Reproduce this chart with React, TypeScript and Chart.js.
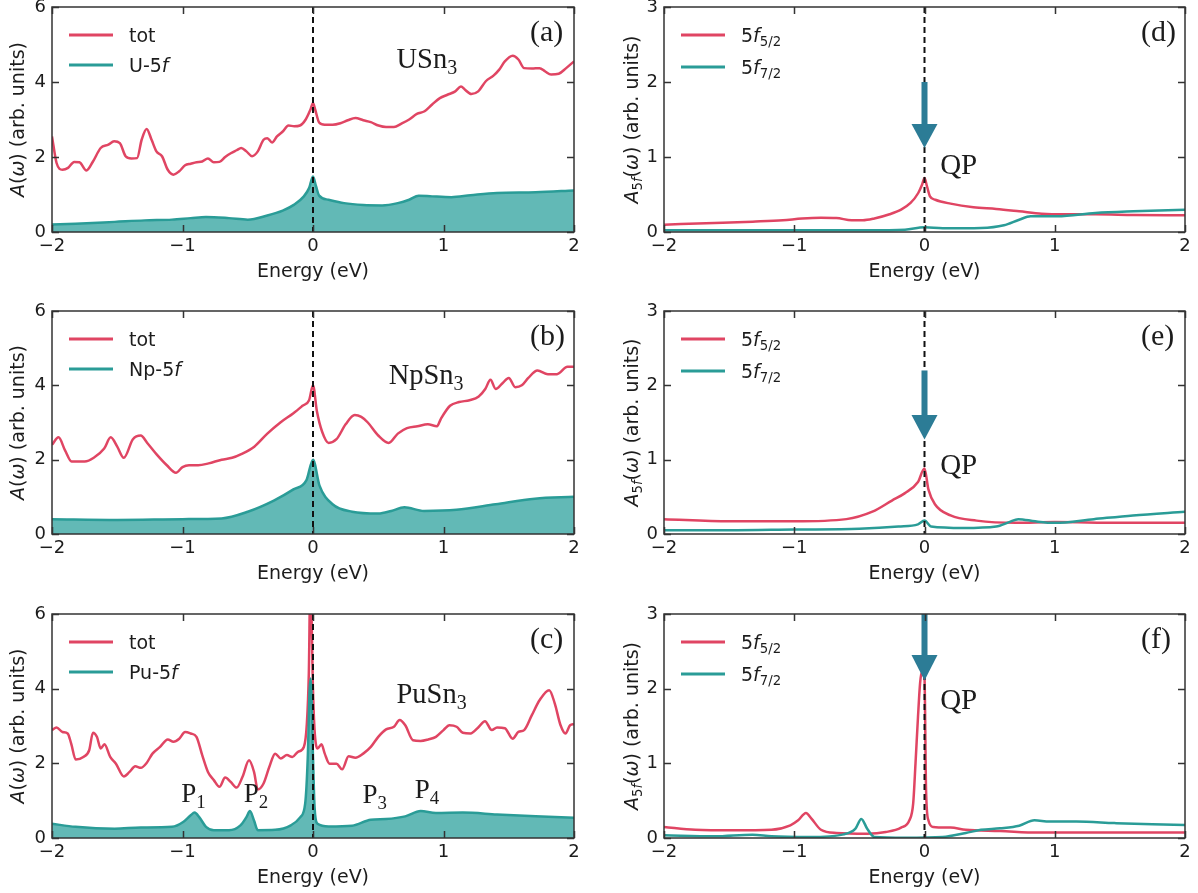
import React, { useEffect, useRef } from "react";
import { Chart, registerables } from "chart.js";
Chart.register(...registerables);

const RED = "#E04563";
const TEAL = "#2A9C97";
const TEAL_FILL = "#62B9B6";
const ARROW = "#2C7C96";
const INK = "#1c1c1c";
const SANS = "'DejaVu Sans', 'Noto Sans', sans-serif";
const SERIF = "'Liberation Serif', 'Times New Roman', serif";

const energyTicks = [-2, -1, 0, 1, 2];
const leftYTicks = [0, 2, 4, 6];
const rightYTicks = [0, 1, 2, 3];

// ---- (a) USn3 ----
const aTotE = [-2,-1.965,-1.92,-1.877,-1.83,-1.79,-1.736,-1.686,-1.627,-1.568,-1.524,-1.48,-1.436,-1.392,-1.348,-1.313,-1.275,-1.237,-1.2,-1.157,-1.113,-1.069,-1.025,-0.98,-0.937,-0.893,-0.849,-0.805,-0.76,-0.717,-0.673,-0.63,-0.585,-0.55,-0.51,-0.467,-0.423,-0.379,-0.35,-0.314,-0.276,-0.232,-0.188,-0.144,-0.1,-0.056,-0.02,0,0.017,0.047,0.09,0.15,0.21,0.267,0.325,0.385,0.443,0.502,0.56,0.62,0.678,0.737,0.796,0.855,0.913,0.972,1.03,1.09,1.134,1.163,1.213,1.266,1.324,1.383,1.427,1.47,1.53,1.574,1.618,1.677,1.736,1.78,1.824,1.883,1.94,2];
const aTotA = [2.55,1.84,1.66,1.71,1.87,1.86,1.64,1.88,2.24,2.33,2.42,2.37,2.02,1.96,1.97,2.46,2.75,2.46,2.15,2.02,1.66,1.53,1.62,1.78,1.82,1.86,1.88,1.96,1.86,1.87,2.0,2.1,2.18,2.24,2.15,2.02,2.15,2.46,2.5,2.39,2.55,2.68,2.84,2.82,2.84,3.0,3.26,3.44,3.26,2.92,2.86,2.86,2.9,2.98,3.04,2.98,2.93,2.84,2.8,2.8,2.89,3.0,3.15,3.22,3.4,3.57,3.66,3.75,3.88,3.8,3.68,3.75,4.02,4.17,4.33,4.55,4.7,4.6,4.37,4.36,4.37,4.28,4.2,4.22,4.37,4.55];
const aFE = [-2,-1.82,-1.52,-1.29,-1.08,-0.937,-0.82,-0.644,-0.5,-0.35,-0.232,-0.144,-0.07,-0.03,0,0.023,0.047,0.12,0.238,0.385,0.53,0.65,0.737,0.81,0.913,1.06,1.207,1.41,1.706,2];
const aFA = [0.2,0.22,0.27,0.31,0.33,0.37,0.4,0.37,0.33,0.44,0.57,0.73,0.95,1.17,1.48,1.22,0.97,0.86,0.77,0.72,0.71,0.77,0.86,0.97,0.95,0.93,0.98,1.04,1.06,1.11];

// ---- (b) NpSn3 ----
const bTotE = [-2,-1.95,-1.9,-1.85,-1.75,-1.68,-1.6,-1.55,-1.5,-1.45,-1.38,-1.32,-1.27,-1.2,-1.12,-1.05,-1.0,-0.95,-0.88,-0.8,-0.7,-0.62,-0.55,-0.45,-0.35,-0.25,-0.15,-0.08,-0.03,0,0.03,0.07,0.12,0.18,0.25,0.32,0.37,0.42,0.5,0.58,0.65,0.72,0.8,0.88,0.95,0.98,1.05,1.12,1.2,1.27,1.32,1.36,1.4,1.45,1.5,1.55,1.6,1.65,1.72,1.8,1.87,1.95,2];
const bTotA = [2.4,2.6,2.25,1.95,1.95,2.05,2.3,2.6,2.35,2.05,2.55,2.65,2.45,2.15,1.85,1.65,1.8,1.85,1.85,1.9,2.0,2.05,2.15,2.35,2.7,3.0,3.25,3.45,3.6,4.0,3.3,2.75,2.45,2.55,2.95,3.2,3.15,3.0,2.65,2.45,2.7,2.85,2.9,2.95,2.9,3.1,3.45,3.55,3.6,3.7,3.9,4.15,3.9,4.05,4.2,3.95,4.0,4.2,4.4,4.3,4.3,4.5,4.5];
const bFE = [-2,-1.5,-1.0,-0.7,-0.5,-0.3,-0.15,-0.05,0,0.05,0.15,0.3,0.5,0.6,0.7,0.85,1.1,1.4,1.7,2];
const bFA = [0.4,0.38,0.4,0.42,0.6,0.9,1.2,1.45,2.0,1.3,0.8,0.6,0.55,0.62,0.72,0.62,0.65,0.8,0.95,1.0];

// ---- (c) PuSn3 ----
const cTotE = [-2,-1.965,-1.92,-1.88,-1.853,-1.818,-1.76,-1.715,-1.686,-1.656,-1.627,-1.598,-1.554,-1.51,-1.45,-1.406,-1.362,-1.319,-1.275,-1.23,-1.172,-1.113,-1.069,-1.025,-0.98,-0.937,-0.893,-0.849,-0.805,-0.76,-0.717,-0.673,-0.63,-0.585,-0.54,-0.49,-0.452,-0.423,-0.379,-0.335,-0.29,-0.247,-0.2,-0.158,-0.115,-0.07,-0.047,-0.032,-0.02,0,0.012,0.035,0.065,0.09,0.127,0.18,0.223,0.273,0.325,0.385,0.443,0.5,0.56,0.62,0.664,0.707,0.766,0.825,0.883,0.942,1.0,1.045,1.1,1.148,1.207,1.266,1.318,1.37,1.41,1.47,1.53,1.574,1.618,1.677,1.736,1.81,1.853,1.897,1.935,1.97,2];
const cTotA = [2.89,2.96,2.84,2.8,2.53,2.1,2.17,2.35,2.82,2.71,2.4,2.51,2.17,1.99,1.65,1.77,1.92,1.88,2.01,2.26,2.44,2.64,2.58,2.66,2.84,2.8,2.71,2.22,1.77,1.55,1.37,1.62,1.5,1.35,1.64,2.08,1.77,1.3,1.46,1.9,2.26,2.13,2.22,2.17,2.31,2.44,3.07,4.41,7.0,3.96,2.89,2.4,2.51,2.26,1.99,1.99,1.84,2.19,2.15,2.26,2.44,2.71,2.91,2.98,3.16,3.02,2.62,2.6,2.64,2.71,2.89,3.02,2.98,2.82,2.8,2.96,3.13,2.89,2.96,2.94,2.66,2.84,2.89,3.29,3.69,3.96,3.6,3.02,2.8,3.02,3.05];
const cFE = [-2,-1.82,-1.52,-1.32,-1.08,-0.995,-0.937,-0.907,-0.872,-0.82,-0.76,-0.644,-0.556,-0.51,-0.483,-0.452,-0.423,-0.29,-0.17,-0.097,-0.06,-0.04,-0.026,-0.018,0,0.012,0.035,0.12,0.3,0.443,0.56,0.707,0.825,0.942,1.148,1.41,1.706,2];
const cFA = [0.38,0.3,0.25,0.28,0.3,0.43,0.61,0.68,0.56,0.3,0.21,0.21,0.34,0.56,0.72,0.47,0.21,0.22,0.34,0.56,0.92,2.17,3.96,4.27,2.17,0.83,0.38,0.31,0.33,0.49,0.51,0.58,0.72,0.67,0.68,0.63,0.58,0.54];

// ---- (d) USn3 j-resolved ----
const d52E = [-2,-1.614,-1.32,-1.087,-0.94,-0.795,-0.677,-0.56,-0.473,-0.385,-0.268,-0.18,-0.107,-0.048,-0.019,0,0.019,0.042,0.083,0.2,0.376,0.55,0.727,0.9,1.078,1.312,1.605,2];
const d52A = [0.098,0.12,0.138,0.156,0.18,0.19,0.187,0.156,0.156,0.18,0.236,0.298,0.387,0.52,0.63,0.72,0.61,0.475,0.43,0.378,0.33,0.307,0.276,0.244,0.236,0.236,0.227,0.222];
const d72E = [-2,-1.03,-0.44,-0.15,0,0.14,0.434,0.61,0.727,0.815,1.02,1.312,1.605,2];
const d72A = [0.022,0.022,0.022,0.031,0.062,0.049,0.053,0.089,0.164,0.209,0.209,0.253,0.276,0.298];

// ---- (e) NpSn3 j-resolved ----
const e52E = [-2,-1.5,-1.0,-0.6,-0.4,-0.25,-0.15,-0.05,0,0.03,0.08,0.2,0.4,0.7,1.0,1.5,2];
const e52A = [0.2,0.17,0.17,0.2,0.3,0.45,0.55,0.7,0.88,0.6,0.4,0.25,0.18,0.15,0.16,0.15,0.15];
const e72E = [-2,-1.5,-1,-0.5,-0.2,-0.05,0,0.05,0.3,0.55,0.65,0.72,0.85,1.0,1.3,1.6,2];
const e72A = [0.05,0.05,0.06,0.07,0.1,0.13,0.18,0.1,0.08,0.1,0.16,0.2,0.17,0.15,0.2,0.25,0.3];

// ---- (f) PuSn3 j-resolved ----
const f52E = [-2,-1.76,-1.47,-1.175,-1.03,-0.97,-0.91,-0.868,-0.795,-0.677,-0.44,-0.297,-0.18,-0.116,-0.087,-0.069,-0.05,-0.034,-0.02,0,0.012,0.03,0.067,0.2,0.317,0.58,0.873,1.312,2];
const f52A = [0.148,0.11,0.103,0.11,0.17,0.237,0.335,0.26,0.11,0.067,0.058,0.08,0.139,0.237,0.46,1.0,1.62,2.07,2.23,2.14,0.64,0.237,0.148,0.139,0.11,0.094,0.072,0.072,0.072];
const f72E = [-2,-1.614,-1.32,-1.175,-0.88,-0.62,-0.53,-0.485,-0.44,-0.385,-0.15,0.14,0.317,0.434,0.58,0.727,0.844,0.96,1.166,1.458,1.75,2];
const f72A = [0.036,0.022,0.045,0.022,0.013,0.049,0.125,0.255,0.125,0.013,0.004,0.013,0.067,0.11,0.13,0.165,0.237,0.22,0.22,0.2,0.183,0.174];

type Seg = { t: string; it?: boolean; sub?: boolean };
type Label = { segs: Seg[]; x: number; y: number; size: number };
interface PanelDef {
  side: "L" | "R";
  row: number;
  yMax: number;
  yTicks: number[];
  redE: number[];
  redA: number[];
  tealE: number[];
  tealA: number[];
  fillTeal: boolean;
  legend: Seg[][];
  yTitle: Seg[];
  tag: string;
  labels: Label[];
  arrow?: { top: number; base: number; tip: number };
}

const yTitleL: Seg[] = [{ t: "A", it: true }, { t: "(" }, { t: "ω", it: true }, { t: ") (arb. units)" }];
const yTitleR: Seg[] = [{ t: "A", it: true }, { t: "5", sub: true }, { t: "f", sub: true, it: true }, { t: "(" }, { t: "ω", it: true }, { t: ") (arb. units)" }];
const legJ: Seg[][] = [
  [{ t: "5" }, { t: "f", it: true }, { t: "5/2", sub: true }],
  [{ t: "5" }, { t: "f", it: true }, { t: "7/2", sub: true }],
];
const qp = (y: number): Label => ({ segs: [{ t: "QP" }], x: 0.12, y, size: 29 });
const pk = (n: string, x: number, y: number): Label => ({ segs: [{ t: "P" }, { t: n, sub: true }], x, y, size: 27 });

const panels: PanelDef[] = [
  { side: "L", row: 0, yMax: 6, yTicks: leftYTicks, redE: aTotE, redA: aTotA, tealE: aFE, tealA: aFA, fillTeal: true,
    legend: [[{ t: "tot" }], [{ t: "U-5" }, { t: "f", it: true }]], yTitle: yTitleL, tag: "(a)",
    labels: [{ segs: [{ t: "USn" }, { t: "3", sub: true }], x: 0.64, y: 4.37, size: 28.5 }] },
  { side: "L", row: 1, yMax: 6, yTicks: leftYTicks, redE: bTotE, redA: bTotA, tealE: bFE, tealA: bFA, fillTeal: true,
    legend: [[{ t: "tot" }], [{ t: "Np-5" }, { t: "f", it: true }]], yTitle: yTitleL, tag: "(b)",
    labels: [{ segs: [{ t: "NpSn" }, { t: "3", sub: true }], x: 0.58, y: 4.04, size: 28.5 }] },
  { side: "L", row: 2, yMax: 6, yTicks: leftYTicks, redE: cTotE, redA: cTotA, tealE: cFE, tealA: cFA, fillTeal: true,
    legend: [[{ t: "tot" }], [{ t: "Pu-5" }, { t: "f", it: true }]], yTitle: yTitleL, tag: "(c)",
    labels: [
      { segs: [{ t: "PuSn" }, { t: "3", sub: true }], x: 0.64, y: 3.62, size: 28.5 },
      pk("1", -1.01, 0.96), pk("2", -0.53, 0.96), pk("3", 0.38, 0.94), pk("4", 0.78, 1.07),
    ] },
  { side: "R", row: 0, yMax: 3, yTicks: rightYTicks, redE: d52E, redA: d52A, tealE: d72E, tealA: d72A, fillTeal: false,
    legend: legJ, yTitle: yTitleR, tag: "(d)", labels: [qp(0.77)], arrow: { top: 2.0, base: 1.44, tip: 1.12 } },
  { side: "R", row: 1, yMax: 3, yTicks: rightYTicks, redE: e52E, redA: e52A, tealE: e72E, tealA: e72A, fillTeal: false,
    legend: legJ, yTitle: yTitleR, tag: "(e)", labels: [qp(0.81)], arrow: { top: 2.2, base: 1.6, tip: 1.27 } },
  { side: "R", row: 2, yMax: 3, yTicks: rightYTicks, redE: f52E, redA: f52A, tealE: f72E, tealA: f72A, fillTeal: false,
    legend: legJ, yTitle: yTitleR, tag: "(f)", labels: [qp(1.73)], arrow: { top: 3.1, base: 2.45, tip: 2.11 } },
];

// layout geometry (pixels)
const rowTop = [0, 290, 590];
const rowH = [290, 300, 303];
const rowPadTop = [7, 21, 24];
const rowXAxisH = [58, 56, 55];
const colLeft = { L: 0, R: 600 };
const colW = { L: 600, R: 598 };
const colYAxisW = { L: 52, R: 64 };
const colPadRight = { L: 26, R: 13 };

function zip(e: number[], a: number[]) {
  const n = Math.min(e.length, a.length);
  const out: { x: number; y: number }[] = [];
  for (let i = 0; i < n; i++) out.push({ x: e[i], y: a[i] });
  return out;
}

function font(size: number, it: boolean | undefined, fam: string) {
  return `${it ? "italic " : ""}${size}px ${fam}`;
}
function segWidth(ctx: CanvasRenderingContext2D, segs: Seg[], size: number, fam: string) {
  let w = 0;
  for (const s of segs) {
    ctx.font = font(s.sub ? size * 0.7 : size, s.it, fam);
    w += ctx.measureText(s.t).width;
  }
  return w;
}
function drawSegs(ctx: CanvasRenderingContext2D, segs: Seg[], x: number, y: number, size: number, fam: string, color: string) {
  ctx.fillStyle = color;
  ctx.textAlign = "left";
  ctx.textBaseline = "alphabetic";
  let cx = x;
  for (const s of segs) {
    const sz = s.sub ? size * 0.7 : size;
    ctx.font = font(sz, s.it, fam);
    ctx.fillText(s.t, cx, y + (s.sub ? size * 0.22 : 0));
    cx += ctx.measureText(s.t).width;
  }
}

function fmtTick(v: number) {
  return v < 0 ? "\u2212" + Math.abs(v) : String(v);
}

function makeOverlay(def: PanelDef) {
  return {
    id: "overlay",
    afterDatasetsDraw(chart: any) {
      const { ctx, chartArea: ca, scales } = chart;
      const xs = scales.x;
      const ys = scales.y;
      ctx.save();
      // dashed Fermi level
      const x0 = xs.getPixelForValue(0);
      ctx.beginPath();
      ctx.setLineDash([6, 4]);
      ctx.lineWidth = 2;
      ctx.strokeStyle = "#111";
      ctx.moveTo(x0, ca.top);
      ctx.lineTo(x0, ca.bottom);
      ctx.stroke();
      ctx.setLineDash([]);
      // arrow
      if (def.arrow) {
        ctx.save();
        ctx.beginPath();
        ctx.rect(ca.left, ca.top, ca.right - ca.left, ca.bottom - ca.top);
        ctx.clip();
        const yt = ys.getPixelForValue(def.arrow.top);
        const yb = ys.getPixelForValue(def.arrow.base);
        const yp = ys.getPixelForValue(def.arrow.tip);
        ctx.fillStyle = ARROW;
        ctx.fillRect(x0 - 3, yt, 6, yb - yt + 1);
        ctx.beginPath();
        ctx.moveTo(x0 - 13, yb);
        ctx.lineTo(x0 + 13, yb);
        ctx.lineTo(x0, yp);
        ctx.closePath();
        ctx.fill();
        ctx.restore();
      }
      // frame
      ctx.strokeStyle = "#333";
      ctx.lineWidth = 1.5;
      ctx.strokeRect(ca.left, ca.top, ca.right - ca.left, ca.bottom - ca.top);
      // inward ticks on all sides
      ctx.beginPath();
      for (const t of energyTicks) {
        const px = Math.round(xs.getPixelForValue(t)) + 0.5;
        ctx.moveTo(px, ca.bottom);
        ctx.lineTo(px, ca.bottom - 7);
        ctx.moveTo(px, ca.top);
        ctx.lineTo(px, ca.top + 7);
      }
      for (const t of def.yTicks) {
        const py = Math.round(ys.getPixelForValue(t)) + 0.5;
        ctx.moveTo(ca.left, py);
        ctx.lineTo(ca.left + 7, py);
        ctx.moveTo(ca.right, py);
        ctx.lineTo(ca.right - 7, py);
      }
      ctx.stroke();
      // legend
      def.legend.forEach((segs, i) => {
        const ly = ca.top + 28 + i * (def.side === "L" ? 30 : 32);
        ctx.beginPath();
        ctx.lineWidth = 3;
        ctx.strokeStyle = i === 0 ? RED : TEAL;
        ctx.moveTo(ca.left + 17, ly);
        ctx.lineTo(ca.left + 61, ly);
        ctx.stroke();
        drawSegs(ctx, segs, ca.left + 77, ly + 7, 19, SANS, INK);
      });
      // panel tag
      drawSegs(ctx, [{ t: def.tag }], ca.right - 44, ca.top + 34, 30, SERIF, INK);
      // annotations
      for (const lb of def.labels) {
        drawSegs(ctx, lb.segs, xs.getPixelForValue(lb.x), ys.getPixelForValue(lb.y), lb.size, SERIF, INK);
      }
      // x title
      const xt: Seg[] = [{ t: "Energy (eV)" }];
      const xw = segWidth(ctx, xt, 19, SANS);
      drawSegs(ctx, xt, (ca.left + ca.right) / 2 - xw / 2, ca.bottom + 45, 19, SANS, INK);
      // y title (rotated)
      const yw = segWidth(ctx, def.yTitle, 19, SANS);
      ctx.save();
      ctx.translate(def.side === "L" ? 24 : 38, (ca.top + ca.bottom) / 2);
      ctx.rotate(-Math.PI / 2);
      drawSegs(ctx, def.yTitle, -yw / 2, 0, 19, SANS, INK);
      ctx.restore();
      ctx.restore();
    },
  };
}

function Panel({ def }: { def: PanelDef }) {
  const ref = useRef<HTMLCanvasElement | null>(null);
  const w = colW[def.side];
  const h = rowH[def.row];
  useEffect(() => {
    if (!ref.current) return;
    const tickFont = { family: SANS, size: 18 };
    const chart = new Chart(ref.current, {
      type: "line",
      data: {
        datasets: [
          {
            data: zip(def.tealE, def.tealA),
            borderColor: TEAL,
            backgroundColor: TEAL_FILL,
            fill: def.fillTeal ? "origin" : false,
            borderWidth: 2.5,
            pointRadius: 0,
            cubicInterpolationMode: "monotone",
          },
          {
            data: zip(def.redE, def.redA),
            borderColor: RED,
            backgroundColor: RED,
            fill: false,
            borderWidth: 2.5,
            pointRadius: 0,
            cubicInterpolationMode: "monotone",
          },
        ],
      } as any,
      options: {
        animation: false,
        responsive: false,
        layout: {
          autoPadding: false,
          padding: { top: rowPadTop[def.row], right: colPadRight[def.side], left: 0, bottom: 0 },
        } as any,
        plugins: { legend: { display: false }, tooltip: { enabled: false } },
        scales: {
          x: {
            type: "linear",
            min: -2,
            max: 2,
            afterBuildTicks: (s: any) => {
              s.ticks = energyTicks.map((v) => ({ value: v }));
            },
            ticks: { font: tickFont, color: INK, padding: 4, maxRotation: 0, autoSkip: false, callback: (v: any) => fmtTick(Number(v)) },
            grid: { display: false, drawTicks: false },
            border: { display: false },
            afterFit: (s: any) => {
              s.height = rowXAxisH[def.row];
              s.paddingLeft = 0;
              s.paddingRight = 0;
            },
          },
          y: {
            type: "linear",
            min: 0,
            max: def.yMax,
            afterBuildTicks: (s: any) => {
              s.ticks = def.yTicks.map((v) => ({ value: v }));
            },
            ticks: { font: tickFont, color: INK, padding: 6, callback: (v: any) => fmtTick(Number(v)) },
            grid: { display: false, drawTicks: false },
            border: { display: false },
            afterFit: (s: any) => {
              s.width = colYAxisW[def.side];
              s.paddingTop = 0;
              s.paddingBottom = 0;
            },
          },
        },
      } as any,
      plugins: [makeOverlay(def)],
    });
    return () => chart.destroy();
  }, []);
  return (
    <canvas
      ref={ref}
      width={w}
      height={h}
      style={{ position: "absolute", left: colLeft[def.side], top: rowTop[def.row], width: w, height: h }}
    />
  );
}

export default function App() {
  return (
    <div style={{ position: "absolute", left: 0, top: 0, width: 1198, height: 893, background: "#fff", overflow: "hidden" }}>
      {panels.map((p, i) => (
        <Panel key={i} def={p} />
      ))}
    </div>
  );
}
